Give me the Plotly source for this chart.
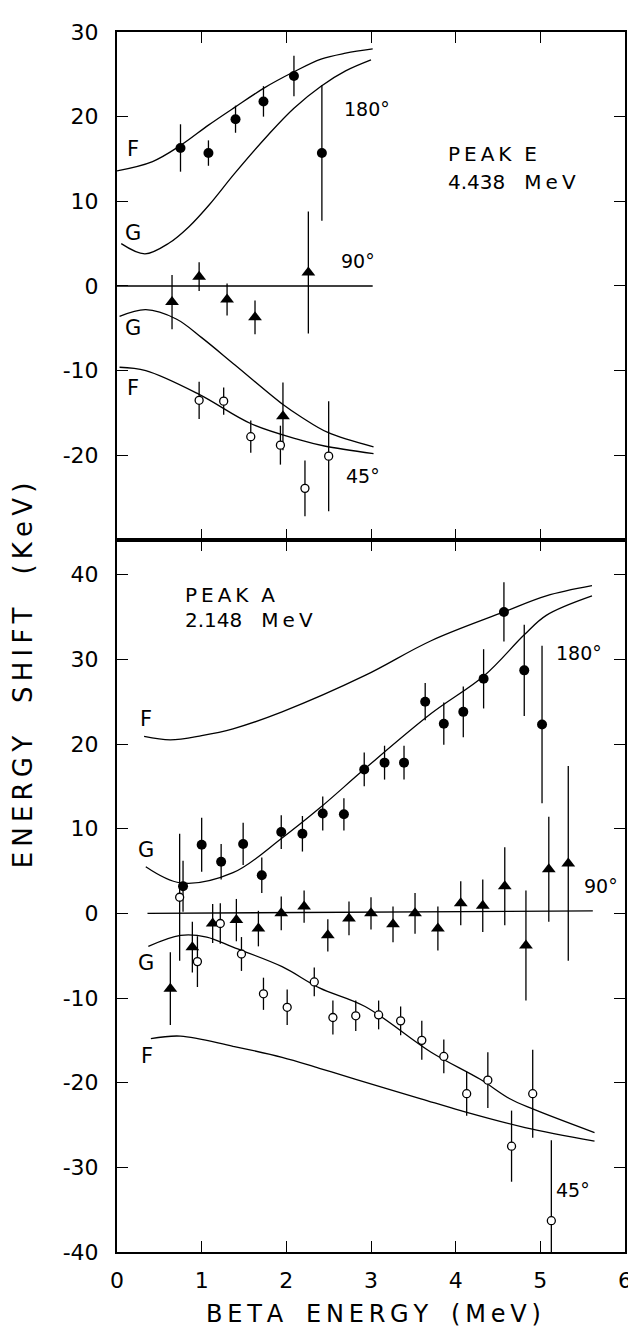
import plotly.graph_objects as go
from plotly.subplots import make_subplots

# ---- Peak E (4.438 MeV), upper panel ----
e_x_180 = [0.75, 1.08, 1.40, 1.73, 2.09, 2.42]
e_y_180 = [16.3, 15.7, 19.7, 21.8, 24.8, 15.7]
e_err_180 = [2.8, 1.5, 1.6, 1.8, 2.4, 8.0]

e_x_90 = [0.65, 0.97, 1.30, 1.63, 1.96, 2.26]
e_y_90 = [-1.9, 1.1, -1.6, -3.7, -15.4, 1.6]
e_err_90 = [3.2, 1.7, 1.9, 2.0, 4.0, 7.2]

e_x_45 = [0.97, 1.26, 1.58, 1.93, 2.22, 2.50]
e_y_45 = [-13.5, -13.6, -17.8, -18.8, -23.9, -20.1]
e_err_45 = [2.2, 1.6, 1.9, 2.3, 3.3, 6.5]

e_f180_x = [0.0, 0.42, 0.75, 1.08, 1.39, 1.74, 2.09, 2.41, 2.70, 3.02]
e_f180_y = [13.6, 14.7, 16.6, 19.0, 21.1, 23.4, 25.3, 26.8, 27.5, 28.0]
e_g180_x = [0.05, 0.33, 0.62, 0.85, 1.09, 1.39, 1.79, 2.09, 2.41, 2.70, 3.0]
e_g180_y = [5.0, 3.8, 5.1, 7.0, 9.6, 13.3, 17.9, 21.0, 23.6, 25.4, 26.7]
e_line90_x = [0.0, 3.02]
e_line90_y = [0.0, 0.0]
e_g45_x = [0.03, 0.34, 0.70, 1.00, 1.39, 1.96, 2.18, 2.49, 3.03]
e_g45_y = [-3.6, -2.8, -3.9, -6.1, -9.3, -14.0, -15.5, -17.3, -19.0]
e_f45_x = [0.03, 0.34, 0.97, 1.59, 2.17, 2.45, 3.03]
e_f45_y = [-9.6, -10.0, -12.8, -16.3, -18.2, -18.9, -19.8]

# ---- Peak A (2.148 MeV), lower panel ----
a_x_180 = [0.78, 1.00, 1.23, 1.49, 1.71, 1.94, 2.19, 2.43, 2.68, 2.92,
           3.16, 3.39, 3.64, 3.86, 4.09, 4.33, 4.57, 4.81, 5.02]
a_y_180 = [3.2, 8.1, 6.1, 8.2, 4.5, 9.6, 9.4, 11.8, 11.7, 17.0,
           17.8, 17.8, 25.0, 22.4, 23.8, 27.7, 35.6, 28.7, 22.3]
a_err_180 = [3.0, 3.2, 2.1, 2.5, 2.1, 2.0, 2.1, 2.0, 1.9, 2.0,
             2.0, 2.0, 2.2, 2.5, 3.0, 3.5, 3.5, 5.4, 9.3]

a_x_90 = [0.63, 0.89, 1.13, 1.41, 1.67, 1.94, 2.21, 2.49, 2.74, 3.00,
          3.26, 3.52, 3.79, 4.06, 4.32, 4.58, 4.83, 5.10, 5.33]
a_y_90 = [-8.9, -4.0, -1.2, -0.8, -1.8, 0.0, 0.8, -2.6, -0.6, 0.0,
          -1.3, 0.0, -1.8, 1.2, 0.9, 3.2, -3.8, 5.2, 5.9]
a_err_90 = [4.3, 3.0, 2.3, 2.5, 2.1, 2.0, 1.9, 1.9, 2.0, 1.9,
            2.1, 2.4, 2.6, 2.6, 3.1, 4.6, 6.5, 6.2, 11.5]

a_x_45 = [0.74, 0.95, 1.22, 1.47, 1.73, 2.01, 2.33, 2.55, 2.82, 3.09,
          3.35, 3.60, 3.86, 4.13, 4.38, 4.66, 4.91, 5.13]
a_y_45 = [1.9, -5.7, -1.2, -4.8, -9.5, -11.1, -8.1, -12.3, -12.1, -12.0,
          -12.7, -15.0, -16.9, -21.3, -19.7, -27.5, -21.3, -36.3]
a_err_45 = [7.5, 3.0, 2.4, 2.0, 1.9, 2.1, 1.7, 2.0, 1.8, 1.7,
            1.7, 2.3, 2.0, 2.6, 3.3, 4.2, 5.2, 9.5]

a_f180_x = [0.32, 0.63, 1.00, 1.37, 1.95, 2.93, 3.71, 4.57, 5.07, 5.61]
a_f180_y = [20.9, 20.5, 21.0, 21.8, 23.8, 28.1, 32.2, 35.6, 37.5, 38.7]
a_g180_x = [0.34, 0.75, 1.37, 1.95, 2.39, 2.93, 3.71, 4.34, 4.81, 5.07, 5.61]
a_g180_y = [5.5, 3.6, 4.8, 8.9, 12.4, 17.1, 23.6, 28.1, 32.9, 35.2, 37.5]
a_line90_x = [0.36, 5.62]
a_line90_y = [0.0, 0.3]
a_g45_x = [0.37, 0.75, 1.06, 1.37, 1.95, 2.39, 2.93, 3.71, 4.29, 4.64, 4.91, 5.64]
a_g45_y = [-3.9, -2.6, -2.8, -4.0, -6.3, -8.8, -11.0, -16.4, -19.6, -21.9, -23.1, -25.9]
a_f45_x = [0.40, 0.75, 1.37, 1.95, 2.39, 2.82, 3.59, 4.06, 4.82, 5.64]
a_f45_y = [-14.8, -14.5, -15.7, -17.0, -18.3, -19.6, -21.9, -23.3, -25.3, -26.9]

x_ticks = [0, 1, 2, 3, 4, 5, 6]
e_y_ticks = [-20, -10, 0, 10, 20, 30]
a_y_ticks = [-40, -30, -20, -10, 0, 10, 20, 30, 40]

FONT = "DejaVu Sans"
INK = "black"
nb = "\u00a0"      # non-breaking space for wide word gaps
thin = "\u2009"    # thin space for the lettering's wide tracking


def spaced(word):
    return thin.join(word)


fig = make_subplots(rows=2, cols=1, shared_xaxes=True, vertical_spacing=0,
                    row_heights=[60.0, 84.1])


def add_curve(x, y, row):
    fig.add_trace(go.Scatter(x=x, y=y, mode="lines",
                             line=dict(color=INK, width=1.3, shape="spline", smoothing=1.0),
                             showlegend=False, hoverinfo="skip"), row=row, col=1)


def add_points(x, y, err, symbol, row):
    if symbol == "open":
        marker = dict(symbol="circle", size=8, color="white", line=dict(color=INK, width=1.3))
    elif symbol == "tri":
        marker = dict(symbol="triangle-up", size=12, color=INK, line=dict(width=0))
    else:
        marker = dict(symbol="circle", size=10, color=INK, line=dict(width=0))
    fig.add_trace(go.Scatter(x=x, y=y, mode="markers", marker=marker,
                             error_y=dict(type="data", array=err, visible=True,
                                          thickness=1.3, width=0, color=INK),
                             showlegend=False), row=row, col=1)


# upper panel
for cx, cy in [(e_f180_x, e_f180_y), (e_g180_x, e_g180_y), (e_line90_x, e_line90_y),
               (e_g45_x, e_g45_y), (e_f45_x, e_f45_y)]:
    add_curve(cx, cy, 1)
add_points(e_x_180, e_y_180, e_err_180, "dot", 1)
add_points(e_x_90, e_y_90, e_err_90, "tri", 1)
add_points(e_x_45, e_y_45, e_err_45, "open", 1)

# lower panel
for cx, cy in [(a_f180_x, a_f180_y), (a_g180_x, a_g180_y), (a_line90_x, a_line90_y),
               (a_g45_x, a_g45_y), (a_f45_x, a_f45_y)]:
    add_curve(cx, cy, 2)
add_points(a_x_180, a_y_180, a_err_180, "dot", 2)
add_points(a_x_90, a_y_90, a_err_90, "tri", 2)
add_points(a_x_45, a_y_45, a_err_45, "open", 2)

axis_style = dict(showline=True, linewidth=2, linecolor=INK, mirror="ticks",
                  ticks="inside", ticklen=11, tickwidth=1.3, tickcolor=INK,
                  showgrid=False, zeroline=False,
                  tickfont=dict(family=FONT, size=22, color=INK))

fig.update_xaxes(range=[0, 6], tickvals=x_ticks, ticktext=[str(v) for v in x_ticks],
                 **axis_style)
fig.update_xaxes(showticklabels=False, row=1, col=1)
fig.update_xaxes(ticklabelstandoff=8, row=2, col=1)
fig.update_yaxes(range=[-30, 30], tickvals=e_y_ticks, ticktext=[str(v) for v in e_y_ticks],
                 row=1, col=1, **axis_style)
fig.update_yaxes(range=[-40, 44.1], tickvals=a_y_ticks, ticktext=[str(v) for v in a_y_ticks],
                 row=2, col=1, **axis_style)
fig.update_yaxes(ticklabelstandoff=12)

notes = [
    # upper panel
    ("x", "y", 0.19, 16.2, "F"), ("x", "y", 0.19, 6.3, "G"),
    ("x", "y", 0.19, -5.0, "G"), ("x", "y", 0.19, -12.1, "F"),
    ("x", "y", 2.95, 20.9, "180°"), ("x", "y", 2.85, 3.0, "90°"),
    ("x", "y", 2.90, -22.5, "45°"),
    # lower panel
    ("x2", "y2", 0.34, 22.9, "F"), ("x2", "y2", 0.34, 7.5, "G"),
    ("x2", "y2", 0.34, -5.9, "G"), ("x2", "y2", 0.36, -16.9, "F"),
    ("x2", "y2", 5.46, 30.7, "180°"), ("x2", "y2", 5.72, 3.2, "90°"),
    ("x2", "y2", 5.39, -32.7, "45°"),
]
for xr, yr, tx, ty, txt in notes:
    size = 19 if "°" in txt else 21
    fig.add_annotation(x=tx, y=ty, xref=xr, yref=yr, text=txt, showarrow=False,
                       font=dict(family=FONT, size=size, color=INK),
                       xanchor="center", yanchor="middle")

peak_font = dict(family=FONT, size=20, color=INK)
peaks = [
    ("x", "y", 3.88, 15.6, spaced("PEAK") + nb * 2 + "E"),
    ("x", "y", 3.88, 12.3, "4.438" + nb * 3 + spaced("MeV")),
    ("x2", "y2", 0.78, 37.6, spaced("PEAK") + nb * 2 + "A"),
    ("x2", "y2", 0.78, 34.7, "2.148" + nb * 3 + spaced("MeV")),
]
for xr, yr, tx, ty, txt in peaks:
    fig.add_annotation(x=tx, y=ty, xref=xr, yref=yr, text=txt, showarrow=False,
                       font=peak_font, xanchor="left", yanchor="middle")

fig.add_annotation(x=0.504, y=-0.0505, xref="paper", yref="paper", showarrow=False,
                   text=spaced("BETA") + nb * 3 + spaced("ENERGY") + nb * 3 + spaced("(MeV)"),
                   font=dict(family=FONT, size=24, color=INK),
                   xanchor="center", yanchor="middle")
fig.add_annotation(x=-0.186, y=0.4723, xref="paper", yref="paper", showarrow=False,
                   text=spaced("ENERGY") + nb * 4 + spaced("SHIFT") + nb * 4 + spaced("(KeV)"),
                   font=dict(family=FONT, size=26, color=INK), textangle=-90,
                   xanchor="center", yanchor="middle")

# the page body adds an 8px offset, so margins are trimmed to keep the frame in place
fig.update_layout(width=636, height=1330, plot_bgcolor="white", paper_bgcolor="white",
                  margin=dict(l=109, r=17, t=16, b=86), showlegend=False)

fig.write_html("out.html")
